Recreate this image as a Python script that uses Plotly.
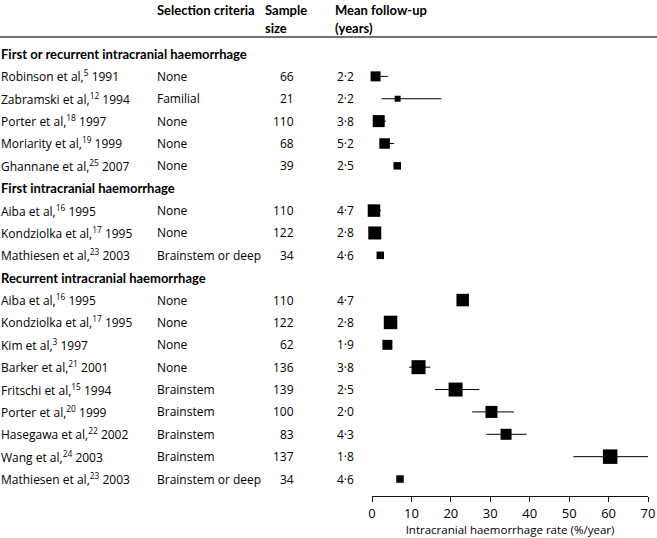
import plotly.graph_objects as go

# ---- data ----
sections = ["First or recurrent intracranial haemorrhage",
            "First intracranial haemorrhage",
            "Recurrent intracranial haemorrhage"]
section_rows = [0, 6, 10]

authors = ["Robinson et al,", "Zabramski et al,", "Porter et al,", "Moriarity et al,", "Ghannane et al,",
           "Aiba et al,", "Kondziolka et al,", "Mathiesen et al,",
           "Aiba et al,", "Kondziolka et al,", "Kim et al,", "Barker et al,", "Fritschi et al,",
           "Porter et al,", "Hasegawa et al,", "Wang et al,", "Mathiesen et al,"]
refs = ["5", "12", "18", "19", "25", "16", "17", "23", "16", "17", "3", "21", "15", "20", "22", "24", "23"]
years = ["1991", "1994", "1997", "1999", "2007", "1995", "1995", "2003",
         "1995", "1995", "1997", "2001", "1994", "1999", "2002", "2003", "2003"]
criteria = ["None", "Familial", "None", "None", "None", "None", "None", "Brainstem or deep",
            "None", "None", "None", "None", "Brainstem", "Brainstem", "Brainstem", "Brainstem",
            "Brainstem or deep"]
sample_size = [66, 21, 110, 68, 39, 110, 122, 34, 110, 122, 62, 136, 139, 100, 83, 137, 34]
followup = ["2·2", "2·2", "3·8", "5·2", "2·5", "4·7", "2·8", "4·6",
            "4·7", "2·8", "1·9", "3·8", "2·5", "2·0", "4·3", "1·8", "4·6"]
rate = [0.9, 6.5, 1.7, 3.2, 6.4, 0.5, 0.7, 2.1, 23.0, 4.7, 3.9, 11.8, 21.2, 30.3, 34.0, 60.4, 7.1]
ci_low = [0.2, 2.4, 0.8, 1.9, 5.5, 0.1, 0.2, 1.4, 22.0, 3.6, 3.0, 9.4, 16.0, 25.4, 29.0, 51.1, 6.4]
ci_high = [4.0, 17.6, 3.5, 5.6, 7.2, 2.3, 1.5, 2.8, 24.0, 5.8, 4.8, 14.8, 27.2, 36.0, 39.2, 70.1, 7.8]
weights = [10, 6, 12, 10.5, 7.5, 12.5, 13, 7.5, 12.5, 13.5, 10, 14, 14, 12, 11, 14.5, 7.5]

x_ticks = [0, 10, 20, 30, 40, 50, 60, 70]

# ---- layout helpers ----
study_rows = [1, 2, 3, 4, 5, 7, 8, 9, 11, 12, 13, 14, 15, 16, 17, 18, 19]
W, H = 657, 538
FONT = "Open Sans"
BFONT = "Lato"
FS = 12
px = lambda p: p / W

fig = go.Figure()
fig.add_trace(go.Scatter(
    x=rate, y=study_rows, mode="markers",
    marker=dict(symbol="square", size=weights, color="black", opacity=1,
                line=dict(width=0, color="black")),
    error_x=dict(type="data", symmetric=False,
                 array=[h - r for h, r in zip(ci_high, rate)],
                 arrayminus=[r - l for r, l in zip(rate, ci_low)],
                 color="black", thickness=1, width=0),
    cliponaxis=False, hoverinfo="skip", showlegend=False))

ann = []
def t(x, y, text, anchor="left", bold=False):
    ann.append(dict(xref="paper", yref="y", x=px(x), y=y, text=("<b>%s</b>" % text) if bold else text,
                    xanchor=anchor, yanchor="middle", showarrow=False, borderpad=0,
                    font=dict(family=BFONT if bold else FONT, size=13 if bold else FS, color="black")))

for s, r in zip(sections, section_rows):
    t(0, r, s, bold=True)
for i, r in enumerate(study_rows):
    t(0, r, "%s<sup>%s</sup> %s" % (authors[i], refs[i], years[i]))
    t(156, r, criteria[i])
    t(295, r, str(sample_size[i]), anchor="right")
    t(336, r, followup[i])

# headers
row_px = 22.37
def prow(p):
    return (p - 54) / row_px
t(156, prow(10), "Selection criteria", bold=True)
t(264, prow(10), "Sample", bold=True)
t(264, prow(28), "size", bold=True)
t(334, prow(10), "Mean follow-up", bold=True)
t(334, prow(28), "(years)", bold=True)

fig.update_layout(
    width=W, height=H, margin=dict(l=0, r=0, t=0, b=0, autoexpand=False),
    paper_bgcolor="white", plot_bgcolor="white",
    annotations=ann,
    shapes=[dict(type="line", xref="paper", yref="paper", x0=0, x1=1,
                 y0=(H - 37) / H, y1=(H - 37) / H, line=dict(color="#444", width=1.5))],
    xaxis=dict(domain=[px(372), px(648)], range=[0, 70], tickvals=x_ticks, automargin=False,
               showline=True, linecolor="#111", linewidth=1.3, ticks="outside",
               ticklen=5, tickcolor="#111", tickwidth=1.3, showgrid=False, zeroline=False,
               tickfont=dict(family=FONT, size=13, color="black"),
               title=dict(text="Intracranial haemorrhage rate (%/year)", standoff=1,
                          font=dict(family=FONT, size=11.5, color="black"))),
    yaxis=dict(domain=[(H - 496) / H, 1], range=[prow(496), prow(0)], visible=False,
               automargin=False),
)
fig.write_html("out.html", config={"displayModeBar": False},
               post_script="document.body.style.margin='0';document.body.style.overflow='hidden';")
